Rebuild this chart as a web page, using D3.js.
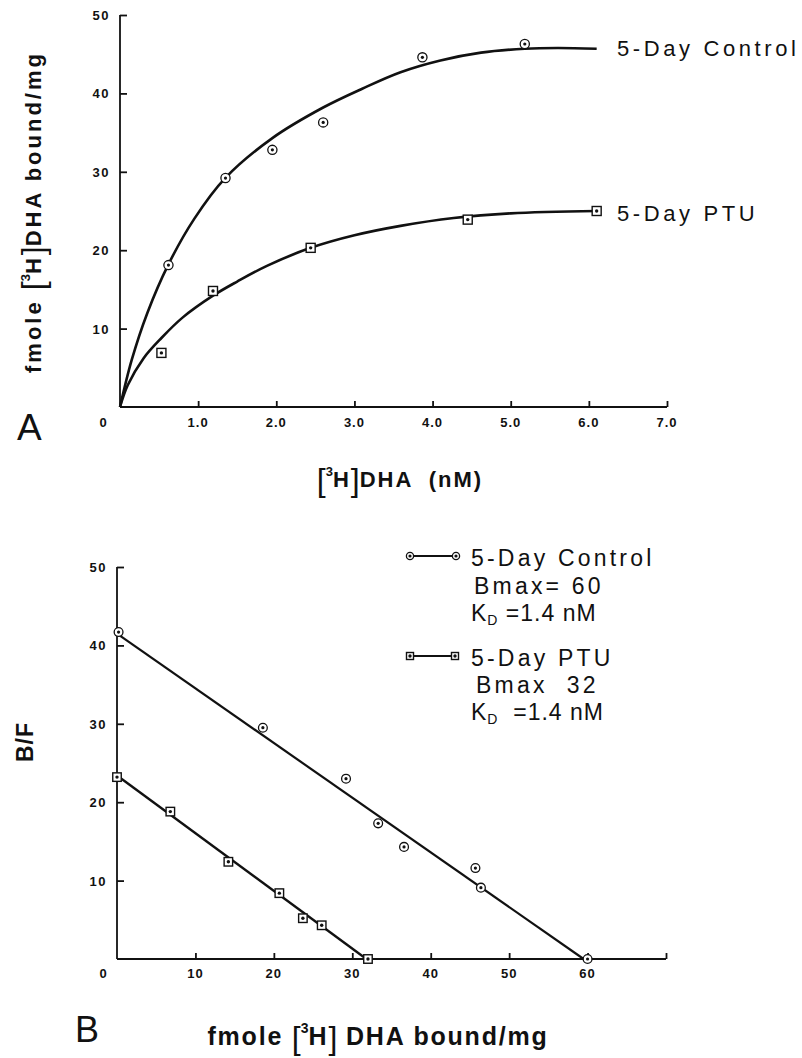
<!DOCTYPE html>
<html>
<head>
<meta charset="utf-8">
<script src="https://cdn.jsdelivr.net/npm/d3@7"></script>
<style>
  html, body { margin: 0; padding: 0; background: #fff; }
  svg { display: block; }
  text { font-family: "Liberation Sans", Arial, Helvetica, sans-serif; fill: #111; white-space: pre; }
</style>
</head>
<body>
<svg id="chart" width="802" height="1058"></svg>
<script>
// ---------------- DATA ----------------
// Panel A: saturation binding, x = [3H]DHA (nM), y = fmole bound/mg
const aXTicks = [1, 2, 3, 4, 5, 6, 7];
const aXTickLabels = ["1.0", "2.0", "3.0", "4.0", "5.0", "6.0", "7.0"];
const aYTicks = [10, 20, 30, 40, 50];
const aYTickLabels = ["10", "20", "30", "40", "50"];

const controlA_x = [0.62, 1.35, 1.95, 2.60, 3.87, 5.18];
const controlA_y = [18.1, 29.2, 32.8, 36.3, 44.6, 46.3];
const ptuA_x = [0.53, 1.19, 2.44, 4.45, 6.10];
const ptuA_y = [6.9, 14.8, 20.3, 23.9, 25.0];

// fitted (hand-drawn) curves
const controlCurve_x = [0, 0.15, 0.35, 0.615, 0.95, 1.346, 1.95, 2.60, 3.10, 3.59, 4.10, 4.62, 5.18, 5.60, 6.10];
const controlCurve_y = [0, 6.0, 12.0, 18.1, 24.0, 29.2, 34.3, 38.2, 40.6, 42.7, 44.2, 45.2, 45.7, 45.8, 45.7];
const ptuCurve_x = [0, 0.10, 0.30, 0.53, 0.80, 1.19, 1.50, 1.88, 2.44, 3.00, 3.59, 4.27, 5.00, 6.10];
const ptuCurve_y = [0, 2.8, 6.2, 8.8, 11.4, 14.2, 16.0, 18.0, 20.3, 21.9, 23.1, 24.1, 24.7, 25.0];

// Panel B: Scatchard plot, x = fmole bound/mg, y = B/F
const bXTicks = [10, 20, 30, 40, 50, 60, 70];
const bXTickLabels = ["10", "20", "30", "40", "50", "60", ""];
const bYTicks = [10, 20, 30, 40, 50];
const bYTickLabels = ["10", "20", "30", "40", "50"];

const controlB_x = [0.2, 18.6, 29.2, 33.3, 36.6, 45.7, 46.4, 60.0];
const controlB_y = [41.7, 29.5, 23.0, 17.3, 14.3, 11.6, 9.1, 0];
const ptuB_x = [0, 6.8, 14.2, 20.7, 23.7, 26.1, 32.0];
const ptuB_y = [23.2, 18.8, 12.4, 8.4, 5.2, 4.3, 0];

const controlB_line_x = [0, 59.5];
const controlB_line_y = [41.5, 0];
const ptuB_line_x = [0, 31.8];
const ptuB_line_y = [23.4, 0];

// ---------------- DRAW ----------------
const svg = d3.select("#chart");
const zip = (xs, ys) => xs.map((x, i) => [x, ys[i]]);

function markerCircle(g, x, y, r) {
  g.append("circle").attr("cx", x).attr("cy", y).attr("r", r)
    .attr("fill", "#fff").attr("stroke", "#111").attr("stroke-width", 1.3);
  g.append("circle").attr("cx", x).attr("cy", y).attr("r", 1.6).attr("fill", "#111");
}
function markerSquare(g, x, y, s) {
  g.append("rect").attr("x", x - s / 2).attr("y", y - s / 2).attr("width", s).attr("height", s)
    .attr("fill", "#fff").attr("stroke", "#111").attr("stroke-width", 1.4);
  g.append("circle").attr("cx", x).attr("cy", y).attr("r", 1.7).attr("fill", "#111");
}

function drawAxes(g, x, y, xTicks, xLabels, yTicks, yLabels, labelY) {
  const xAxis = d3.axisBottom(x).tickValues(xTicks).tickSize(-6).tickFormat("");
  const yAxis = d3.axisLeft(y).tickValues(yTicks).tickSize(-7).tickFormat("");
  const gx = g.append("g").attr("transform", `translate(0,${y(0)})`).call(xAxis);
  const gy = g.append("g").attr("transform", `translate(${x(0)},0)`).call(yAxis);
  [gx, gy].forEach(a => {
    a.select(".domain").attr("stroke", "#111").attr("stroke-width", 1.8);
    a.selectAll(".tick line").attr("stroke", "#111").attr("stroke-width", 1.8);
  });
  gx.select(".domain").attr("d", `M${x.range()[0]},0H${x.range()[1]}`);
  gy.select(".domain").attr("d", `M0,${y.range()[0]}V${y.range()[1]}`);
  g.selectAll(null).data(xTicks).enter().append("text")
    .attr("x", d => x(d)).attr("y", labelY)
    .attr("text-anchor", "middle").attr("font-size", 13).attr("font-weight", "bold")
    .attr("letter-spacing", 1)
    .text((d, i) => xLabels[i]);
  g.selectAll(null).data(yTicks).enter().append("text")
    .attr("x", x(0) - 10).attr("y", d => y(d) + 5)
    .attr("text-anchor", "end").attr("font-size", 13).attr("font-weight", "bold")
    .attr("letter-spacing", 1.5)
    .text((d, i) => yLabels[i]);
  g.append("text").attr("x", 103).attr("y", labelY)
    .attr("text-anchor", "middle").attr("font-size", 13).attr("font-weight", "bold").text("0");
}

// label with bracketed superscript: "[³H]"; net dy returns to the baseline after "]"
function bracketLabel(t, opts) {
  if (opts.pre) t.append("tspan").text(opts.pre);
  t.append("tspan").attr("font-weight", "normal").attr("font-size", opts.bs).attr("dy", opts.bd).attr("letter-spacing", 0).text("[");
  t.append("tspan").attr("font-size", opts.ss).attr("dy", -opts.sd - opts.bd).attr("letter-spacing", 0).text("3");
  t.append("tspan").attr("dy", opts.sd).text("H");
  t.append("tspan").attr("font-weight", "normal").attr("font-size", opts.bs).attr("dy", opts.bd).attr("letter-spacing", 0).text("]");
  t.append("tspan").attr("dy", -opts.bd).text(opts.post);
}

// ---- Panel A ----
const xA = d3.scaleLinear().domain([0, 7]).range([120, 667]);
const yA = d3.scaleLinear().domain([0, 50]).range([407, 15]);
const gA = svg.append("g");
drawAxes(gA, xA, yA, aXTicks, aXTickLabels, aYTicks, aYTickLabels, 427);

const lineA = d3.line().x(d => xA(d[0])).y(d => yA(d[1])).curve(d3.curveCatmullRom.alpha(0.5));
gA.append("path").attr("d", lineA(zip(controlCurve_x, controlCurve_y)))
  .attr("fill", "none").attr("stroke", "#111").attr("stroke-width", 2.6);
gA.append("path").attr("d", lineA(zip(ptuCurve_x, ptuCurve_y)))
  .attr("fill", "none").attr("stroke", "#111").attr("stroke-width", 2.6);

zip(controlA_x, controlA_y).forEach(d => markerCircle(gA, xA(d[0]), yA(d[1]), 4.6));
zip(ptuA_x, ptuA_y).forEach(d => markerSquare(gA, xA(d[0]), yA(d[1]), 9));

gA.append("text").attr("x", 617).attr("y", 56).attr("font-size", 22).attr("letter-spacing", 3.6)
  .text("5-Day Control");
gA.append("text").attr("x", 617).attr("y", 221).attr("font-size", 22).attr("letter-spacing", 3.6)
  .text("5-Day PTU");

// panel A y label
const ylabA = gA.append("text").attr("transform", "translate(41,212) rotate(-90)")
  .attr("text-anchor", "middle").attr("font-size", 22).attr("font-weight", "bold").attr("letter-spacing", 3);
bracketLabel(ylabA, { pre: "fmole ", post: "DHA bound/mg", bs: 32, bd: 3, ss: 13, sd: 11 });

// panel A x label
const xlabA = gA.append("text").attr("x", 400).attr("y", 487)
  .attr("text-anchor", "middle").attr("font-size", 22).attr("font-weight", "bold").attr("letter-spacing", 2);
bracketLabel(xlabA, { pre: "", post: "DHA  (nM)", bs: 32, bd: 4, ss: 13, sd: 11 });

svg.append("text").attr("x", 17).attr("y", 440).attr("font-size", 37).text("A");

// ---- Panel B ----
const xB = d3.scaleLinear().domain([0, 70]).range([117, 666]);
const yB = d3.scaleLinear().domain([0, 50]).range([959, 567]);
const gB = svg.append("g");
drawAxes(gB, xB, yB, bXTicks, bXTickLabels, bYTicks, bYTickLabels, 978);

const lineB = d3.line().x(d => xB(d[0])).y(d => yB(d[1]));
gB.append("path").attr("d", lineB(zip(controlB_line_x, controlB_line_y)))
  .attr("fill", "none").attr("stroke", "#111").attr("stroke-width", 2.2);
gB.append("path").attr("d", lineB(zip(ptuB_line_x, ptuB_line_y)))
  .attr("fill", "none").attr("stroke", "#111").attr("stroke-width", 2.4);

zip(controlB_x, controlB_y).forEach(d => markerCircle(gB, xB(d[0]), yB(d[1]), 4.4));
zip(ptuB_x, ptuB_y).forEach(d => markerSquare(gB, xB(d[0]), yB(d[1]), 8.5));

// legend
gB.append("line").attr("x1", 410).attr("x2", 456).attr("y1", 556).attr("y2", 556)
  .attr("stroke", "#111").attr("stroke-width", 1.8);
markerCircle(gB, 410, 556, 3.6);
markerCircle(gB, 456, 556, 3.6);
gB.append("line").attr("x1", 410).attr("x2", 455).attr("y1", 656).attr("y2", 656)
  .attr("stroke", "#111").attr("stroke-width", 1.8);
markerSquare(gB, 410, 656, 7);
markerSquare(gB, 455, 656, 7);

const legText = (x, y, t) => gB.append("text").attr("x", x).attr("y", y)
  .attr("font-size", 23).attr("letter-spacing", 3.2).text(t);
legText(471, 566, "5-Day Control");
legText(474, 594, "Bmax= 60");
const kd1 = gB.append("text").attr("x", 471).attr("y", 621).attr("font-size", 23).attr("letter-spacing", 1);
kd1.append("tspan").text("K");
kd1.append("tspan").attr("font-size", 14).attr("dy", 4).text("D");
kd1.append("tspan").attr("dy", -4).text(" =1.4 nM");
legText(471, 666, "5-Day PTU");
legText(476, 693, "Bmax  32");
const kd2 = gB.append("text").attr("x", 471).attr("y", 720).attr("font-size", 23).attr("letter-spacing", 1);
kd2.append("tspan").text("K");
kd2.append("tspan").attr("font-size", 14).attr("dy", 4).text("D");
kd2.append("tspan").attr("dy", -4).text("  =1.4 nM");

// panel B y label
gB.append("text").attr("transform", "translate(33,742) rotate(-90)")
  .attr("text-anchor", "middle").attr("font-size", 23).attr("font-weight", "bold").attr("letter-spacing", 1)
  .text("B/F");

// panel B x label
const xlabB = gB.append("text").attr("x", 378).attr("y", 1045)
  .attr("text-anchor", "middle").attr("font-size", 25).attr("font-weight", "bold").attr("letter-spacing", 1.8);
bracketLabel(xlabB, { pre: "fmole ", post: " DHA bound/mg", bs: 32, bd: 4, ss: 14, sd: 12 });

svg.append("text").attr("x", 75).attr("y", 1042).attr("font-size", 36).text("B");
</script>
</body>
</html>
